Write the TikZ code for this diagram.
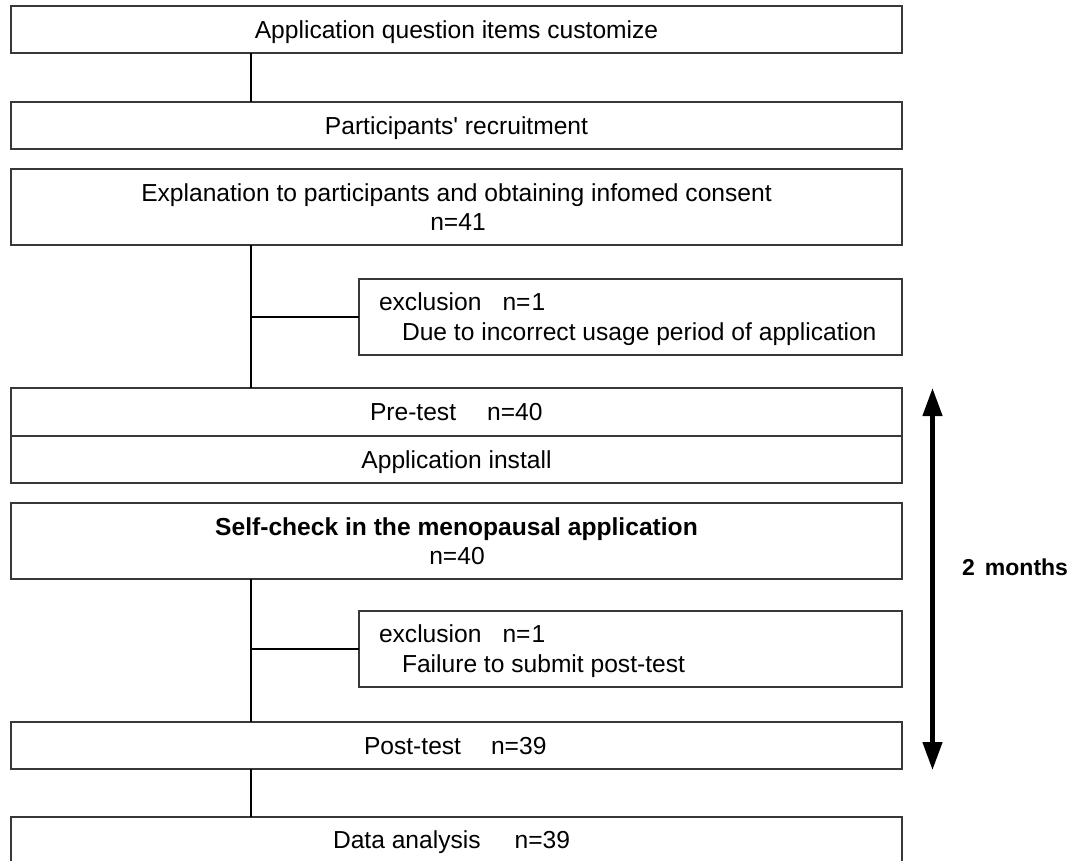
\documentclass[tikz,border=0pt]{standalone}
\usepackage{fontspec}
\setmainfont{Liberation Sans}
\usetikzlibrary{arrows.meta}
\begin{document}
\begin{tikzpicture}[x=1pt,y=-1pt,
  box/.style={draw=black!78, line width=1.2pt, minimum width=891pt, inner sep=0pt, outer sep=0pt, anchor=north west},
  exbox/.style={draw=black!78, line width=1.2pt, minimum width=543pt, minimum height=76pt, inner sep=0pt, outer sep=0pt, anchor=north west},
  txt/.style={inner sep=0pt, outer sep=0pt, font=\fontsize{24.6}{29}\selectfont},
  conn/.style={line width=2.3pt, black},
  span/.style={line width=4.5pt, black, {Triangle[width=19pt,length=28pt]}-{Triangle[width=19pt,length=28pt]}}]
\useasboundingbox (0,0) rectangle (1082,860);
\clip (0,0) rectangle (1082,860);
\fill[white] (0,0) rectangle (1082,860);
% boxes
\node[box, minimum height=47pt] (b1) at (11,6) {};
\node[box, minimum height=47pt] (b2) at (11,102) {};
\node[box, minimum height=76pt] (b3) at (11,169) {};
\node[exbox] (ex1) at (359,279) {};
\node[box, minimum height=48pt] (pre) at (11,388) {};
\node[box, minimum height=47pt] (inst) at (11,436) {};
\node[box, minimum height=76pt] (self) at (11,503) {};
\node[exbox] (ex2) at (359,611) {};
\node[box, minimum height=47pt] (post) at (11,722) {};
\node[box, minimum height=47pt] (data) at (11,817) {};
% texts
\node[txt, anchor=base] (t1) at (456.5,38.3) {Application question items customize};
\node[txt, anchor=base] (t2) at (456.5,134.3) {Participants\textquotesingle{} recruitment};
\node[txt, anchor=base] (t3a) at (456.5,201.5) {Explanation to participants and obtaining infomed consent};
\node[txt, anchor=base] (t3b) at (458,230) {n=41};
\node[txt, anchor=base west] (e1a) at (379,310.5) {exclusion\hspace{21pt}n=\kern1pt1};
\node[txt, anchor=base west] (e1b) at (402,340.5) {Due to incorrect usage period of application};
\node[txt, anchor=base west] (tpre) at (370,420.7) {Pre-test\hspace{31pt}n=40};
\node[txt, anchor=base] (tinst) at (456.5,468) {Application install};
\node[txt, anchor=base] (tsa) at (456.5,535) {\bfseries Self-check in the menopausal application};
\node[txt, anchor=base] (tsb) at (457,564) {n=40};
\node[txt, anchor=base west] (e2a) at (379,642.5) {exclusion\hspace{21pt}n=\kern1pt1};
\node[txt, anchor=base west] (e2b) at (402,672.5) {Failure to submit post-test};
\node[txt, anchor=base west] (tpost) at (364,754.3) {Post-test\hspace{30pt}n=39};
\node[txt, anchor=base west] (tdata) at (333,848) {Data analysis\hspace{34pt}n=39};
% connectors
\coordinate (spine) at (250.7,0);
\draw[conn] (b1.south -| spine) -- (b2.north -| spine);
\draw[conn] (b3.south -| spine) -- (pre.north -| spine);
\draw[conn] (spine |- ex1.west) -- (ex1.west);
\draw[conn] (self.south -| spine) -- (post.north -| spine);
\draw[conn] (spine |- ex2.west) -- (ex2.west);
\draw[conn] (post.south -| spine) -- (data.north -| spine);
% period arrow
\coordinate (atop) at (932.5,388);
\coordinate (abot) at (932.5,770);
\draw[span] (atop) -- (abot);
\node[inner sep=0pt, anchor=base west, font=\fontsize{23}{27}\selectfont\bfseries] (months) at (962,575) {2\hspace{10pt}months};
\end{tikzpicture}
\end{document}
